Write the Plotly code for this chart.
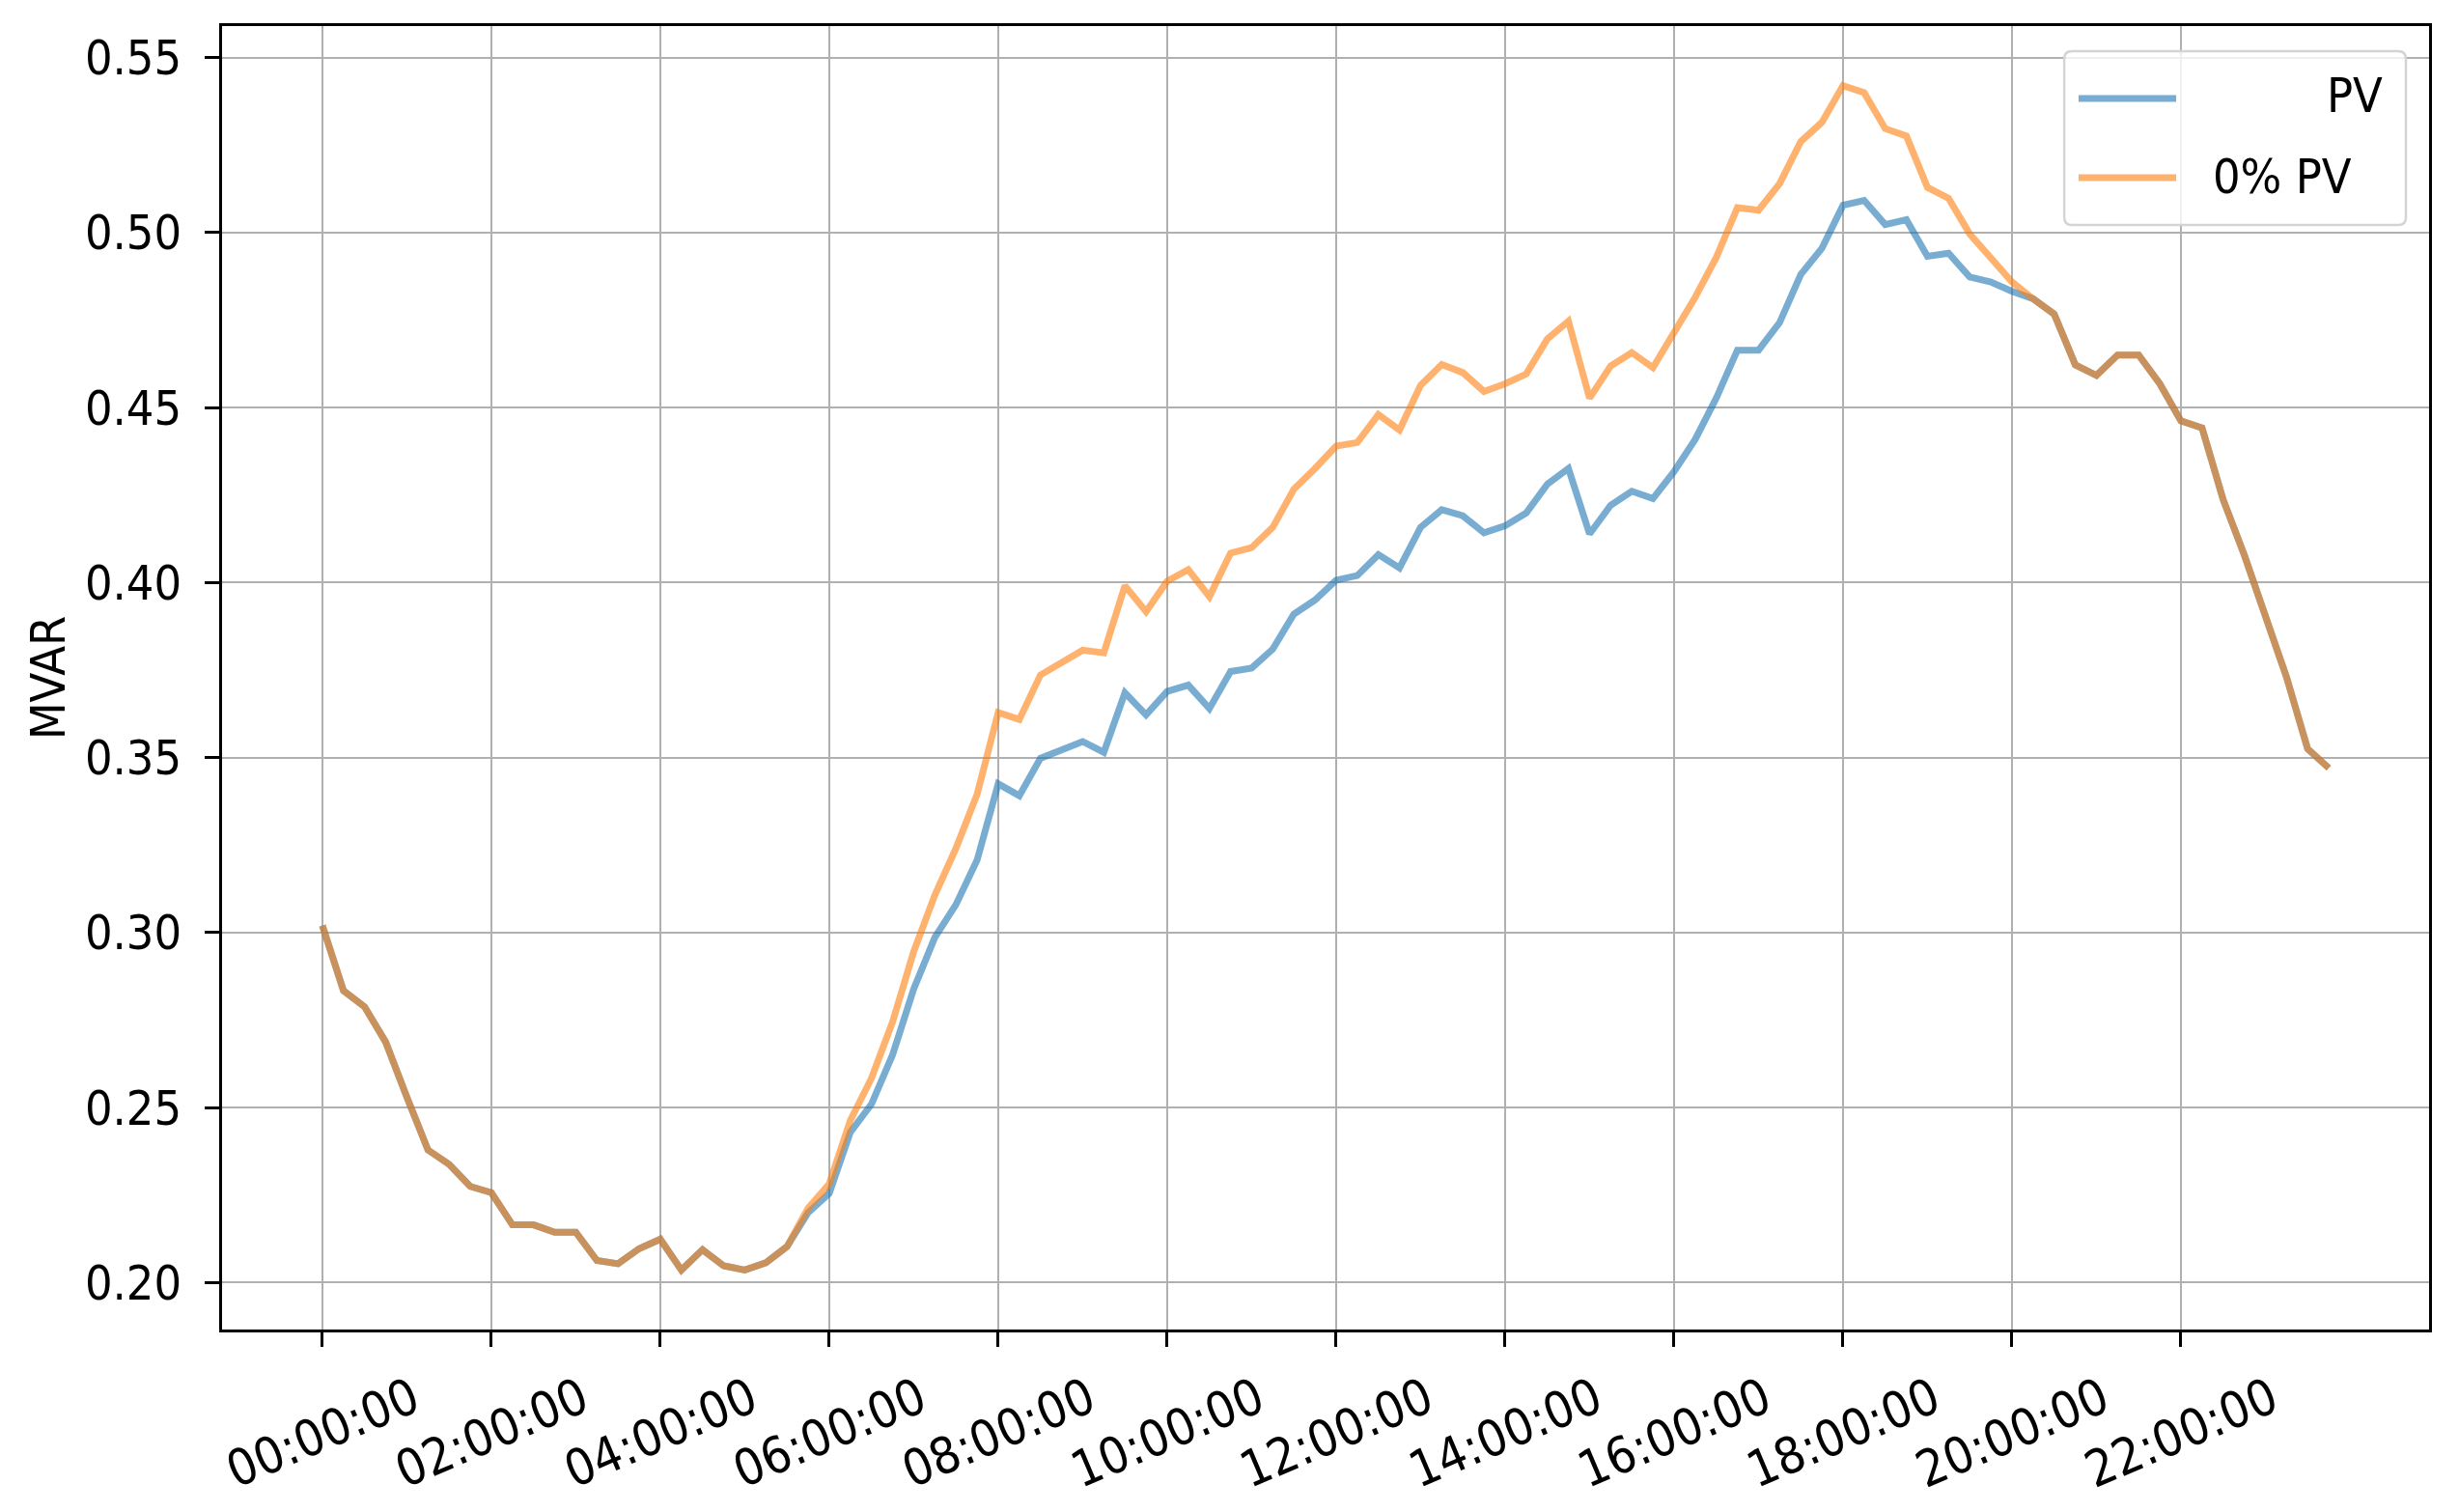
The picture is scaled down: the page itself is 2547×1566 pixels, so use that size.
"""
Reactive power over one day, with and without PV.
"""
import pandas as pd
import plotly.graph_objects as go

# 15-minute steps over one day
times = pd.date_range("2019-01-01 00:00", periods=96, freq="15min")

pv_mvar = [
    0.302, 0.2834, 0.2788, 0.2687, 0.253, 0.2379, 0.2338, 0.2275,
    0.2257, 0.2165, 0.2165, 0.2144, 0.2144, 0.2063, 0.2054, 0.2097,
    0.2124, 0.2036, 0.2094, 0.2048, 0.2036, 0.2057, 0.2103, 0.220,
    0.2255, 0.243, 0.251, 0.2651, 0.2839, 0.2986, 0.308, 0.3207,
    0.3425, 0.3391, 0.3498, 0.3522, 0.3546, 0.3515, 0.3685, 0.3622,
    0.3689, 0.3707, 0.364, 0.3746, 0.3756, 0.381, 0.391, 0.395,
    0.4007, 0.402, 0.408, 0.4042, 0.4158, 0.4208, 0.4191, 0.4142,
    0.4162, 0.4199, 0.4281, 0.4326, 0.4139, 0.4221, 0.4261, 0.424,
    0.4317, 0.4409, 0.4527, 0.4664, 0.4664, 0.4743, 0.488, 0.4955,
    0.5078, 0.5092, 0.5023, 0.5037, 0.4932, 0.4941, 0.4873, 0.4859,
    0.4832, 0.4811, 0.4767, 0.4622, 0.4592, 0.465, 0.465, 0.4568,
    0.4462, 0.4442, 0.4237, 0.4079, 0.3908, 0.373, 0.3525, 0.347,
]

no_pv_mvar = [
    0.302, 0.2834, 0.2788, 0.2687, 0.253, 0.2379, 0.2338, 0.2275,
    0.2257, 0.2165, 0.2165, 0.2144, 0.2144, 0.2063, 0.2054, 0.2097,
    0.2124, 0.2036, 0.2094, 0.2048, 0.2036, 0.2057, 0.2103, 0.2213,
    0.2282, 0.2464, 0.2584, 0.2745, 0.2946, 0.3107, 0.3241, 0.3395,
    0.3629, 0.3609, 0.3736, 0.3770, 0.3807, 0.3799, 0.3991, 0.3917,
    0.4004, 0.4037, 0.396, 0.4084, 0.410, 0.4158, 0.4267, 0.4326,
    0.439, 0.44, 0.448, 0.4436, 0.4564, 0.4623, 0.460, 0.4546,
    0.4568, 0.4596, 0.4696, 0.4747, 0.4527, 0.4619, 0.4657, 0.4614,
    0.4715, 0.4815, 0.4929, 0.5071, 0.5064, 0.514, 0.526, 0.5315,
    0.542, 0.540, 0.5297, 0.5276, 0.5129, 0.5098, 0.4996, 0.4927,
    0.4859, 0.4811, 0.4767, 0.4622, 0.4592, 0.465, 0.465, 0.4568,
    0.4462, 0.4442, 0.4237, 0.4079, 0.3908, 0.373, 0.3525, 0.347,
]

series_names = ["PV", "0% PV"]
series_colors = ["#1f77b4", "#ff7f0e"]

x_tick_labels = [
    "00:00:00", "02:00:00", "04:00:00", "06:00:00", "08:00:00", "10:00:00",
    "12:00:00", "14:00:00", "16:00:00", "18:00:00", "20:00:00", "22:00:00",
]
y_tick_values = [0.20, 0.25, 0.30, 0.35, 0.40, 0.45, 0.50, 0.55]

FONT = "DejaVu Sans Condensed, DejaVu Sans"
ALPHA = 0.6
x_ticks = [pd.Timestamp("2019-01-01 " + t) for t in x_tick_labels]

fig = go.Figure()
for name, values, color in zip(series_names, [pv_mvar, no_pv_mvar], series_colors):
    fig.add_trace(go.Scatter(
        x=times, y=values, mode="lines", name=name,
        line=dict(color=color, width=7),
        opacity=ALPHA, showlegend=False,
    ))

# rotated tick labels, centred under each tick like matplotlib
for t, label in zip(x_ticks, x_tick_labels):
    fig.add_annotation(
        x=t, y=-0.079, xref="x", yref="paper",
        text=label, textangle=-23, showarrow=False,
        xanchor="center", yanchor="middle",
        font=dict(family=FONT, size=52, color="black"),
    )

# legend box drawn by hand (matplotlib style: rounded frame, long handles)
x0, x1, y0, y1 = 0.8347, 0.9895, 0.8474, 0.9807
rx, ry = 0.0035, 0.006
legend_frame = (
    f"M{x0 + rx},{y0} L{x1 - rx},{y0} Q{x1},{y0} {x1},{y0 + ry} "
    f"L{x1},{y1 - ry} Q{x1},{y1} {x1 - rx},{y1} "
    f"L{x0 + rx},{y1} Q{x0},{y1} {x0},{y1 - ry} "
    f"L{x0},{y0 + ry} Q{x0},{y0} {x0 + rx},{y0} Z"
)
fig.add_shape(
    type="path", xref="paper", yref="paper", path=legend_frame,
    fillcolor="rgba(255,255,255,0.8)",
    line=dict(color="#d4d4d4", width=2.5), layer="above",
)
legend_rows = [0.9444, 0.8837]
for name, color, row in zip(series_names, series_colors, legend_rows):
    fig.add_shape(
        type="line", xref="paper", yref="paper",
        x0=0.8412, x1=0.8854, y0=row, y1=row,
        line=dict(color=color, width=7), opacity=ALPHA, layer="above",
    )
fig.add_annotation(
    x=0.9799, y=0.9463, xref="paper", yref="paper", text=series_names[0],
    showarrow=False, xanchor="right", yanchor="middle",
    font=dict(family=FONT, size=50, color="black"),
)
fig.add_annotation(
    x=0.9011, y=0.8844, xref="paper", yref="paper", text=series_names[1],
    showarrow=False, xanchor="left", yanchor="middle",
    font=dict(family=FONT, size=50, color="black"),
)

axis_common = dict(
    showline=True, linecolor="black", linewidth=3, mirror=True,
    ticks="outside", ticklen=15, tickwidth=3, tickcolor="black",
    showgrid=True, gridcolor="#b0b0b0", gridwidth=2,
    zeroline=False, automargin=False,
)

fig.update_xaxes(
    **axis_common,
    tickvals=x_ticks,
    showticklabels=False,
    range=["2018-12-31 22:48:45", "2019-01-02 00:56:15"],
)
fig.update_yaxes(
    **axis_common,
    tickvals=y_tick_values,
    tickformat=".2f",
    range=[0.1866, 0.559],
    ticklabelstandoff=14,
    tickfont=dict(family=FONT, size=50, color="black"),
    title=dict(text="MVAR", standoff=5,
               font=dict(family=FONT, size=50, color="black")),
)

# the page body adds an 8px margin, so the figure is sized to fit inside it
fig.update_layout(
    width=2531, height=1550,
    margin=dict(l=222, r=23, t=19, b=181),
    paper_bgcolor="white", plot_bgcolor="white",
    font=dict(family=FONT, size=50, color="black"),
    showlegend=False,
)

fig.write_html("out.html")
